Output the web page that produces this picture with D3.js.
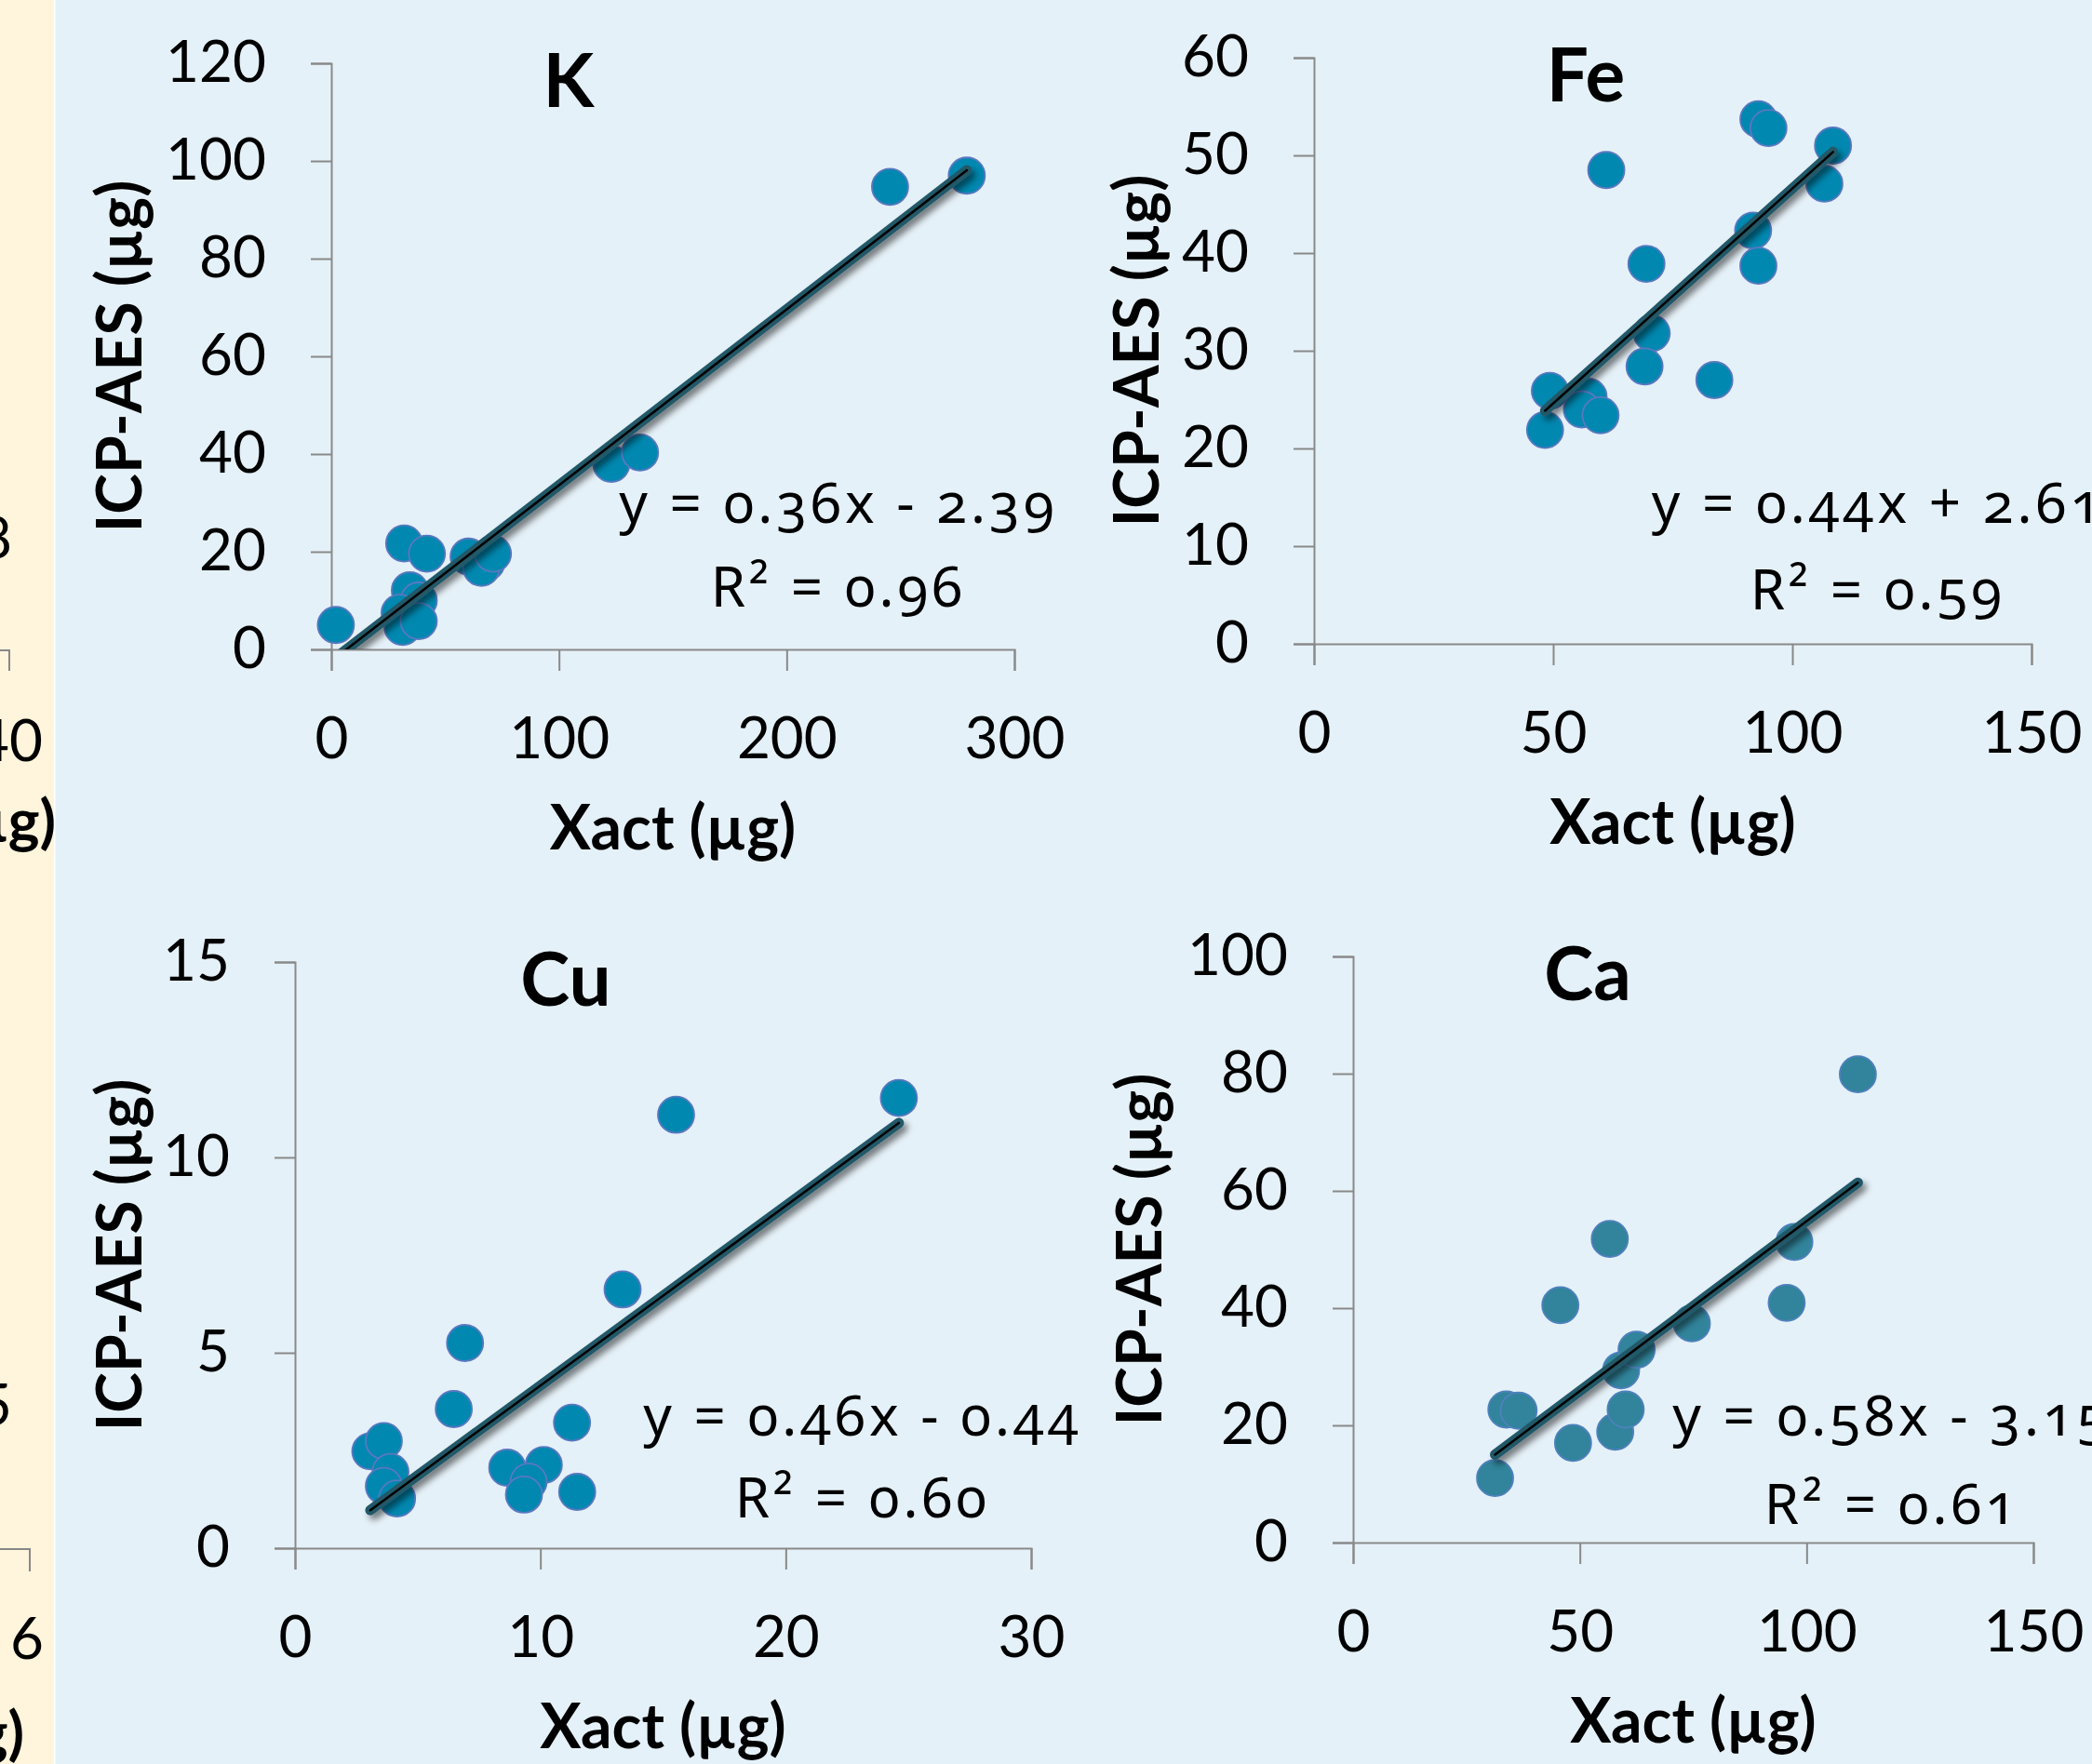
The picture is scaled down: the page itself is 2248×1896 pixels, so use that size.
<!DOCTYPE html>
<html>
<head>
<meta charset="utf-8">
<script src="https://cdn.jsdelivr.net/npm/d3@7"></script>
<style>
  body { margin: 0; background: #e5f1f8; }
  svg { display: block; }
</style>
</head>
<body>
<script>
// values
var titles = ["K", "Fe", "Cu", "Ca"];

var kX = [2, 32, 42, 34.5, 38.4, 30, 31.3, 38.4, 60.3, 68.2, 65.9, 71, 123, 135.6, 245.4, 279.1];
var kY = [5, 21.7, 19.6, 12.1, 10, 7.5, 4.6, 5.8, 19, 17.8, 16.7, 19.6, 38, 40.3, 94.7, 97];

var feX = [49.3, 48.3, 57.4, 56.0, 59.9, 61.1, 69.5, 70.6, 69.1, 83.7, 92.9, 95, 91.8, 92.9, 108.5, 106.7];
var feY = [25.9, 21.9, 25.3, 24.0, 23.4, 48.5, 38.9, 31.8, 28.4, 27.0, 53.7, 52.8, 42.3, 38.7, 51.0, 47.1];

var cuX = [3.07, 3.62, 3.89, 3.62, 4.16, 6.47, 6.93, 8.65, 10.14, 9.52, 9.33, 11.29, 11.5, 13.35, 15.53, 24.61];
var cuY = [2.48, 2.74, 1.95, 1.59, 1.27, 3.56, 5.25, 2.06, 2.13, 1.70, 1.37, 3.21, 1.44, 6.62, 11.09, 11.52];

var caX = [31.3, 33.8, 36.5, 48.5, 45.7, 56.6, 57.8, 60.1, 59.1, 62.5, 74.7, 95.6, 97.3, 111.3];
var caY = [11.0, 22.7, 22.5, 17.0, 40.5, 51.8, 18.9, 22.7, 29.4, 32.9, 37.4, 40.9, 51.3, 79.9];

var slopes = [0.36, 0.44, 0.46, 0.58];
var intercepts = [-2.39, 2.61, -0.44, -3.15];
var r2 = ["0.96", "0.59", "0.60", "0.61"];

var xMax = [300, 150, 30, 150];
var yMax = [120, 60, 15, 100];
var xTicks = [[0, 100, 200, 300], [0, 50, 100, 150], [0, 10, 20, 30], [0, 50, 100, 150]];
var yTicks = [[0, 20, 40, 60, 80, 100, 120], [0, 10, 20, 30, 40, 50, 60], [0, 5, 10, 15], [0, 20, 40, 60, 80, 100]];

var xLabel = "Xact (µg)";
var yLabel = "ICP-AES (µg)";

// where each panel sits on the page
var layout = [
  {x0: 356, x1: 1090, y0: 698, y1: 68, tx: 611, ty: 115, lx: 128, eqx: 899, eqy: 562, rqy: 652},
  {x0: 1412, x1: 2183, y0: 692, y1: 62, tx: 1704, ty: 109, lx: 1221, eqx: 2016, eqy: 562, rqy: 655},
  {x0: 317, x1: 1108, y0: 1664, y1: 1034, tx: 608, ty: 1081, lx: 128, eqx: 925, eqy: 1543, rqy: 1631},
  {x0: 1454, x1: 2185, y0: 1658, y1: 1028, tx: 1706, ty: 1075, lx: 1224, eqx: 2031, eqy: 1543, rqy: 1638}
];
var dotFill = ["#0088b0", "#0088b0", "#0088b0", "#31849b"];
var dotStroke = ["#5a78c0", "#5a78c0", "#5a78c0", "#4f81bd"];

var xs = [kX, feX, cuX, caX];
var ys = [kY, feY, cuY, caY];

var svg = d3.select("body").append("svg")
  .attr("width", 2248)
  .attr("height", 1896);

var defs = svg.append("defs");
var f = defs.append("filter").attr("id", "shadow")
  .attr("x", "-20%").attr("y", "-20%").attr("width", "140%").attr("height", "140%");
f.append("feGaussianBlur").attr("in", "SourceAlpha").attr("stdDeviation", 3.5).attr("result", "b");
f.append("feOffset").attr("in", "b").attr("dx", 4).attr("dy", 5).attr("result", "o");
f.append("feComponentTransfer").attr("in", "o").attr("result", "s")
  .append("feFuncA").attr("type", "linear").attr("slope", 0.5);
var m = f.append("feMerge");
m.append("feMergeNode").attr("in", "s");
m.append("feMergeNode").attr("in", "SourceGraphic");

svg.append("rect").attr("width", 2248).attr("height", 1896).attr("fill", "#e5f1f8");

// strip of the neighbouring chart on the left
var strip = svg.append("g");
strip.append("rect").attr("width", 58).attr("height", 1896).attr("fill", "#fff4dc");
strip.append("rect").attr("x", 58).attr("width", 1.5).attr("height", 1896).attr("fill", "#ffffff");
var stripText = function(t, x, y, bold) {
  strip.append("text").text(t).attr("x", x).attr("y", y)
    .attr("text-anchor", "end")
    .style("font-family", "Lato, sans-serif")
    .style("font-size", bold ? "64px" : "62px")
    .style("font-weight", bold ? 700 : 400)
    .attr("fill", "#000");
};
stripText("8", 13, 600, false);
stripText("140", 46, 818, false);
stripText("(µg)", 60, 905, true);
stripText("5", 13, 1532, false);
stripText("6", 47, 1783, false);
stripText("(µg)", 26, 1885, true);
strip.append("path").attr("d", "M0,699 H10 V721").attr("fill", "none").attr("stroke", "#888").attr("stroke-width", 2);
strip.append("path").attr("d", "M0,1665 H32 V1689").attr("fill", "none").attr("stroke", "#888").attr("stroke-width", 2);

titles.forEach(function(title, i) {
  var L = layout[i];
  var g = svg.append("g");

  var xScale = d3.scaleLinear().domain([0, xMax[i]]).range([L.x0, L.x1]);
  var yScale = d3.scaleLinear().domain([0, yMax[i]]).range([L.y0, L.y1]);

  var xAxis = g.append("g")
    .attr("transform", "translate(0," + L.y0 + ")")
    .call(d3.axisBottom(xScale).tickValues(xTicks[i]).tickSize(23).tickPadding(50).tickFormat(d3.format("d")));
  var yAxis = g.append("g")
    .attr("transform", "translate(" + L.x0 + ",0)")
    .call(d3.axisLeft(yScale).tickValues(yTicks[i]).tickSize(22).tickPadding(48).tickFormat(d3.format("d")));

  [xAxis, yAxis].forEach(function(a) {
    a.selectAll("path, line").attr("stroke", "#898989").attr("stroke-width", 2);
    a.selectAll("text")
      .attr("fill", "#000")
      .style("font-family", "Lato, sans-serif")
      .style("font-size", "62px");
  });

  // plot-area clip so the trendline stops at the axis
  defs.append("clipPath").attr("id", "clip" + i)
    .append("rect")
    .attr("x", L.x0).attr("y", L.y1)
    .attr("width", L.x1 - L.x0).attr("height", L.y0 - L.y1);

  var pts = xs[i].map(function(v, j) { return {x: v, y: ys[i][j]}; });

  g.selectAll(".dot")
    .data(pts)
    .enter()
    .append("circle")
    .attr("class", "dot")
    .attr("cx", function(d) { return xScale(d.x); })
    .attr("cy", function(d) { return yScale(d.y); })
    .attr("r", 19.5)
    .attr("fill", dotFill[i])
    .attr("stroke", dotStroke[i])
    .attr("stroke-width", 1.8);

  var lo = d3.min(xs[i]), hi = d3.max(xs[i]);
  var trend = [lo, hi].map(function(v) { return [v, slopes[i] * v + intercepts[i]]; });
  var line = d3.line().x(function(d) { return xScale(d[0]); }).y(function(d) { return yScale(d[1]); });

  var tg = g.append("g").attr("clip-path", "url(#clip" + i + ")");
  tg.append("path").attr("d", line(trend))
    .attr("fill", "none").attr("stroke", "#215968").attr("stroke-width", 11)
    .attr("stroke-linecap", "round").attr("filter", "url(#shadow)");
  tg.append("path").attr("d", line(trend))
    .attr("fill", "none").attr("stroke", "#000").attr("stroke-width", 2.5)
    .attr("stroke-linecap", "round");

  g.append("text").text(title)
    .attr("x", L.tx).attr("y", L.ty)
    .attr("text-anchor", "middle")
    .style("font-family", "Lato, sans-serif")
    .style("font-weight", 700)
    .style("font-size", "80px");

  g.append("text").text(xLabel)
    .attr("x", (L.x0 + L.x1) / 2).attr("y", L.y0 + 215)
    .attr("text-anchor", "middle")
    .style("font-family", "Lato, sans-serif")
    .style("font-weight", 700)
    .style("font-size", "66px");

  g.append("text").text(yLabel)
    .attr("transform", "translate(" + L.lx + "," + (L.y0 + L.y1) / 2 + ") rotate(-90)")
    .attr("dy", "0.36em")
    .attr("text-anchor", "middle")
    .style("font-family", "Lato, sans-serif")
    .style("font-weight", 700)
    .style("font-size", "66px");

  var sign = intercepts[i] < 0 ? " - " : " + ";
  var eq = "y = " + slopes[i].toFixed(2) + "x" + sign + Math.abs(intercepts[i]).toFixed(2);
  [[eq, L.eqy], ["R² = " + r2[i], L.rqy]].forEach(function(t) {
    g.append("text").text(t[0])
      .attr("x", L.eqx + 2).attr("y", t[1])
      .attr("text-anchor", "middle")
      .style("font-family", "'Noto Sans', sans-serif")
      .style("font-feature-settings", "'onum' 1")
      .style("letter-spacing", "4px")
      .style("font-size", "60px");
  });
});
</script>
</body>
</html>
